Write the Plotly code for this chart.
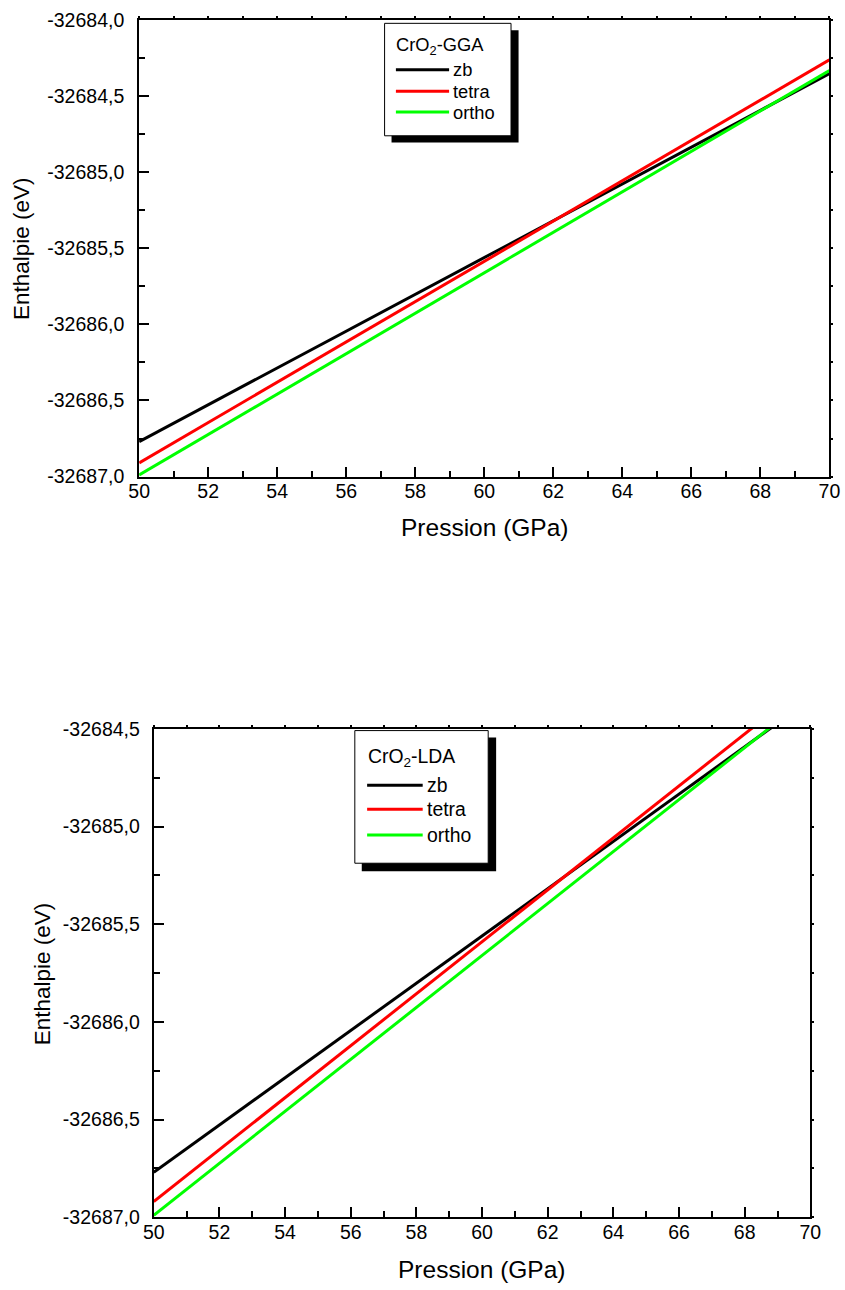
import plotly.graph_objects as go

# Pressure grid (GPa)
pressure = [50, 52, 54, 56, 58, 60, 62, 64, 66, 68, 70]

# Enthalpy (eV), GGA
gga_zb = [-32686.770, -32686.528, -32686.286, -32686.044, -32685.802, -32685.560,
          -32685.318, -32685.076, -32684.834, -32684.592, -32684.350]
gga_tetra = [-32686.910, -32686.645, -32686.380, -32686.115, -32685.850, -32685.585,
             -32685.320, -32685.055, -32684.790, -32684.525, -32684.260]
gga_ortho = [-32686.990, -32686.724, -32686.458, -32686.192, -32685.926, -32685.660,
             -32685.394, -32685.128, -32684.862, -32684.596, -32684.330]

# Enthalpy (eV), LDA
lda_zb = [-32686.770, -32686.528, -32686.286, -32686.044, -32685.802, -32685.560,
          -32685.318, -32685.076, -32684.834, -32684.592, -32684.350]
lda_tetra = [-32686.920, -32686.654, -32686.388, -32686.122, -32685.856, -32685.590,
             -32685.324, -32685.058, -32684.792, -32684.526, -32684.260]
lda_ortho = [-32686.990, -32686.724, -32686.458, -32686.192, -32685.926, -32685.660,
             -32685.394, -32685.128, -32684.862, -32684.596, -32684.330]

series_names = ["zb", "tetra", "ortho"]
series_colors = ["#000000", "#ff0000", "#00ff00"]

# Tick values and labels
x_ticks = [50, 52, 54, 56, 58, 60, 62, 64, 66, 68, 70]
y_ticks_gga = [-32687.0, -32686.5, -32686.0, -32685.5, -32685.0, -32684.5, -32684.0]
y_labels_gga = ["-32687,0", "-32686,5", "-32686,0", "-32685,5", "-32685,0", "-32684,5", "-32684,0"]
y_ticks_lda = [-32687.0, -32686.5, -32686.0, -32685.5, -32685.0, -32684.5]
y_labels_lda = ["-32687,0", "-32686,5", "-32686,0", "-32685,5", "-32685,0", "-32684,5"]

W, H = 845, 1290
# the page holds the figure inside the body's 8px margin, so the visible
# page is a little larger than the figure; positions below are page pixels
BODY = 8
SX = W / (W + 2 * BODY)
SY = H / (H + 2 * BODY)
FONT = "Liberation Sans, Arial, sans-serif"


def px(x):
    return (x / SX - BODY) / W


def py(y):
    return 1 - (y / SY - BODY) / H


fig = go.Figure()

for ys, name, color in zip([gga_zb, gga_tetra, gga_ortho], series_names, series_colors):
    fig.add_trace(go.Scatter(x=pressure, y=ys, mode="lines", name=name,
                             line=dict(color=color, width=3),
                             xaxis="x", yaxis="y", showlegend=False))
for ys, name, color in zip([lda_zb, lda_tetra, lda_ortho], series_names, series_colors):
    fig.add_trace(go.Scatter(x=pressure, y=ys, mode="lines", name=name,
                             line=dict(color=color, width=3),
                             xaxis="x2", yaxis="y2", showlegend=False))

# empty traces so the mirrored tick axes get drawn
fig.add_trace(go.Scatter(x=[], y=[], xaxis="x3", yaxis="y3", showlegend=False))
fig.add_trace(go.Scatter(x=[], y=[], xaxis="x4", yaxis="y4", showlegend=False))

tick_font = dict(family=FONT, size=19.5, color="black")

# panel geometry in page pixels: left, right, top, bottom
top_box = (137, 832.5, 17.3, 475.7)
bot_box = (151.7, 813.3, 729.3, 1220)


def main_x(box, anchor):
    return dict(domain=[px(box[0]), px(box[1])], range=[50, 70], anchor=anchor,
                tickmode="array", tickvals=x_ticks, ticks="inside", ticklen=10,
                tickwidth=1.5, tickcolor="black", tickfont=tick_font,
                ticklabelstandoff=-4,
                minor=dict(tickmode="linear", tick0=50, dtick=1, ticks="inside",
                           ticklen=6, tickwidth=1.5, tickcolor="black"),
                showline=True, linewidth=2, linecolor="black", mirror=True,
                showgrid=False, zeroline=False)


def main_y(box, anchor, rng, vals, labels, standoff):
    return dict(domain=[py(box[3]), py(box[2])], range=rng, anchor=anchor,
                tickmode="array", tickvals=vals, ticktext=labels,
                ticks="inside", ticklen=10, tickwidth=1.5, tickcolor="black",
                tickfont=tick_font, ticklabelstandoff=standoff,
                minor=dict(tickmode="linear", tick0=-32687, dtick=0.25, ticks="inside",
                           ticklen=6, tickwidth=1.5, tickcolor="black"),
                showline=True, linewidth=2, linecolor="black", mirror=True,
                showgrid=False, zeroline=False)


def mirror_x(box, over, anchor):
    return dict(domain=[px(box[0]), px(box[1])], range=[50, 70], overlaying=over,
                anchor=anchor, side="top", tickmode="linear", tick0=50, dtick=1,
                ticks="outside", ticklen=3, tickwidth=1.5, tickcolor="black",
                showticklabels=False, showline=False, showgrid=False, zeroline=False)


def mirror_y(box, over, anchor, rng):
    return dict(domain=[py(box[3]), py(box[2])], range=rng, overlaying=over,
                anchor=anchor, side="right", tickmode="linear", tick0=-32687, dtick=0.25,
                ticks="outside", ticklen=3, tickwidth=1.5, tickcolor="black",
                showticklabels=False, showline=False, showgrid=False, zeroline=False)


rng_gga = [-32687.0, -32684.0]
rng_lda = [-32687.0, -32684.5]

fig.update_layout(
    width=W, height=H,
    margin=dict(l=0, r=0, t=0, b=0),
    paper_bgcolor="white", plot_bgcolor="white",
    font=dict(family=FONT, color="black"),
    xaxis=main_x(top_box, "y"),
    yaxis=main_y(top_box, "x", rng_gga, y_ticks_gga, y_labels_gga, 9),
    xaxis2=main_x(bot_box, "y2"),
    yaxis2=main_y(bot_box, "x2", rng_lda, y_ticks_lda, y_labels_lda, 8),
    xaxis3=mirror_x(top_box, "x", "y"),
    yaxis3=mirror_y(top_box, "y", "x", rng_gga),
    xaxis4=mirror_x(bot_box, "x2", "y2"),
    yaxis4=mirror_y(bot_box, "y2", "x2", rng_lda),
    showlegend=False,
)

title_font_h = dict(family=FONT, size=24.5, color="black")
title_font_v = dict(family=FONT, size=22.5, color="black")
annotations = [
    dict(text="Pression (GPa)", x=px(485), y=py(527), xref="paper", yref="paper",
         showarrow=False, xanchor="center", yanchor="middle", font=title_font_h),
    dict(text="Enthalpie (eV)", x=px(19), y=py(247), xref="paper", yref="paper",
         showarrow=False, xanchor="center", yanchor="middle", textangle=-90, font=title_font_v),
    dict(text="Pression (GPa)", x=px(482), y=py(1273), xref="paper", yref="paper",
         showarrow=False, xanchor="center", yanchor="middle", font=title_font_h),
    dict(text="Enthalpie (eV)", x=px(39), y=py(975), xref="paper", yref="paper",
         showarrow=False, xanchor="center", yanchor="middle", textangle=-90, font=title_font_v),
]
shapes = []


def add_legend(box, shadow, title, title_pos, line_x, line_ys, text_x, fsize):
    l, t, r, b = box
    sr, sb = shadow
    shapes.append(dict(type="rect", xref="paper", yref="paper",
                       x0=px(l + 7), x1=px(sr), y0=py(sb), y1=py(t + 7),
                       fillcolor="black", line=dict(width=0), layer="above"))
    shapes.append(dict(type="rect", xref="paper", yref="paper",
                       x0=px(l), x1=px(r), y0=py(b), y1=py(t),
                       fillcolor="white", line=dict(color="black", width=1), layer="above"))
    f = dict(family=FONT, size=fsize, color="black")
    annotations.append(dict(text=title, x=px(title_pos[0]), y=py(title_pos[1]),
                            xref="paper", yref="paper", showarrow=False,
                            xanchor="left", yanchor="middle", font=f))
    for name, color, yy in zip(series_names, series_colors, line_ys):
        shapes.append(dict(type="line", xref="paper", yref="paper",
                           x0=px(line_x[0]), x1=px(line_x[1]), y0=py(yy), y1=py(yy),
                           line=dict(color=color, width=3), layer="above"))
        annotations.append(dict(text=name, x=px(text_x), y=py(yy), xref="paper",
                                yref="paper", showarrow=False, xanchor="left",
                                yanchor="middle", font=f))


add_legend((384.3, 20.3, 511.7, 133.3), (519.3, 140), "CrO<sub>2</sub>-GGA",
           (394, 43.5), (395.7, 449.3), (67, 88.5, 109.5), 451, 18.3)
add_legend((354.3, 731, 488.7, 864.3), (496.7, 872.3), "CrO<sub>2</sub>-LDA",
           (366, 758.5), (366.7, 422.7), (786, 810, 836), 425, 19.4)

fig.update_layout(annotations=annotations, shapes=shapes)

fig.write_html("out.html")
